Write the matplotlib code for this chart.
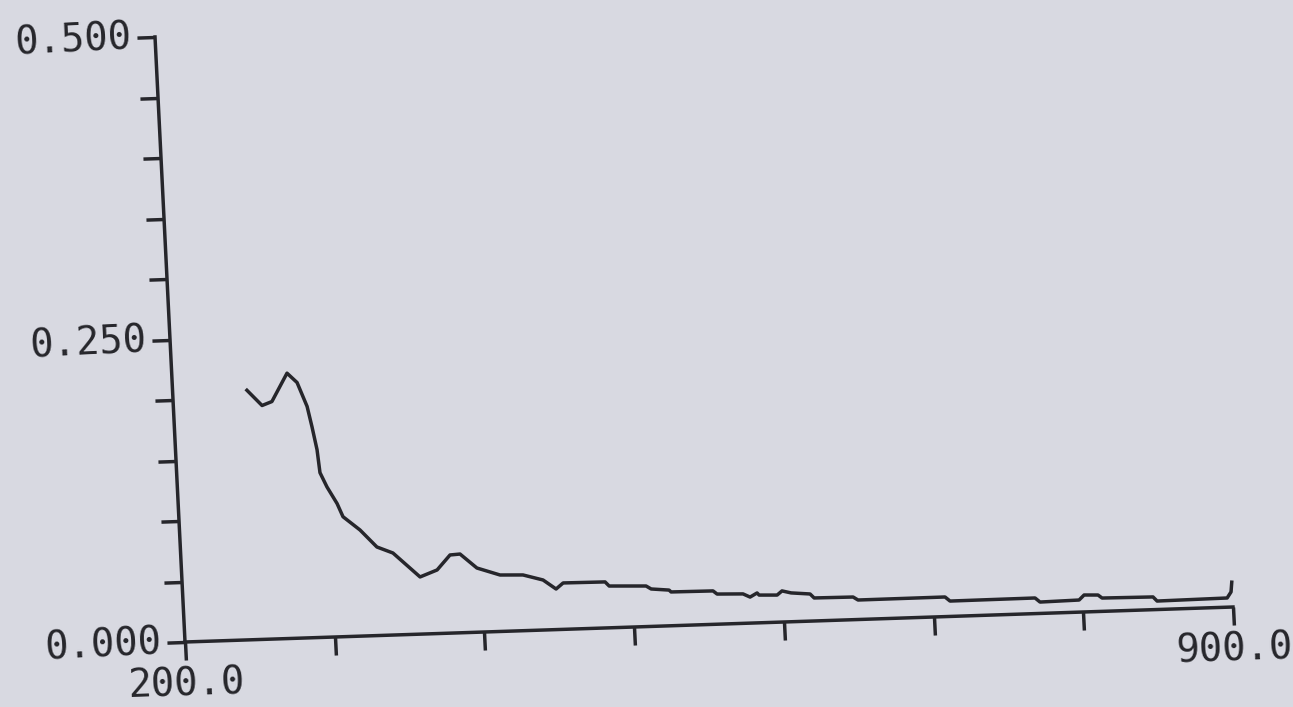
import matplotlib.pyplot as plt
import numpy as np
from matplotlib.transforms import Affine2D
from mpl_toolkits.axisartist import floating_axes
from mpl_toolkits.axisartist.grid_finder import FixedLocator, DictFormatter

# absorbance spectrum
wavelength = [249.6, 259.2, 265.9, 276.9, 283.3, 289.2, 291.8, 294.4, 295.6, 299.8,
              306.0, 309.5, 320.4, 331.1, 341.6, 358.9, 370.5, 379.6, 386.3, 397.1,
              412.3, 427.6, 440.8, 449.2, 454.1, 482.1, 484.7, 509.3, 512.6, 524.5,
              525.8, 553.8, 556.4, 573.7, 578.3, 583.1, 584.4, 596.4, 599.8, 605.8,
              618.4, 621.0, 647.0, 650.2, 708.3, 711.5, 768.3, 771.5, 797.6, 801.1,
              810.4, 813.0, 847.0, 849.6, 896.4, 899.2, 900.0]
absorbance = [0.206, 0.193, 0.196, 0.219, 0.211, 0.191, 0.174, 0.155, 0.136, 0.124,
              0.110, 0.099, 0.0876, 0.0731, 0.0677, 0.0472, 0.0525, 0.0645, 0.065, 0.053,
              0.0466, 0.046, 0.0413, 0.0335, 0.0383, 0.038, 0.0345, 0.0335, 0.0309, 0.0295,
              0.0279, 0.0276, 0.0249, 0.0243, 0.0215, 0.0247, 0.0229, 0.0224, 0.0257, 0.0238,
              0.0224, 0.019, 0.0187, 0.0161, 0.0162, 0.0127, 0.0129, 0.0094, 0.010, 0.014,
              0.0136, 0.011, 0.0105, 0.007, 0.0076, 0.0125, 0.0205]

x_ticks = [200, 300, 400, 500, 600, 700, 800, 900]
x_labels = {200: '200.0', 900: '900.0'}
y_ticks = [0.0, 0.05, 0.1, 0.15, 0.2, 0.25, 0.3, 0.35, 0.4, 0.45, 0.5]
y_labels = {0.0: '0.000', 0.25: '0.250', 0.5: '0.500'}

paper = '#d8d9e1'
ink = '#26262b'

# the scan is slightly skewed: data -> pixel-like units
skew = Affine2D(np.array([[1.4971, -60.0, -1.4971 * 200],
                          [0.05, 1210.0, -0.05 * 200],
                          [0.0, 0.0, 1.0]]))

grid_helper = floating_axes.GridHelperCurveLinear(
    skew, extremes=(200, 900, 0, 0.5),
    grid_locator1=FixedLocator(x_ticks),
    grid_locator2=FixedLocator(y_ticks),
    tick_formatter1=DictFormatter(x_labels),
    tick_formatter2=DictFormatter(y_labels))

fig = plt.figure(figsize=(12.93, 7.07), dpi=100, facecolor=paper)
# floating axes pad their limits by 2%, so the box is made 2% larger
ax = fig.add_axes([144.2 / 1293, 58.6 / 707, 1099.6 / 1293, 652.8 / 707],
                  axes_class=floating_axes.FloatingAxes, grid_helper=grid_helper)
ax.patch.set_visible(False)

for side in ['top', 'right']:
    ax.axis[side].set_visible(False)

for side in ['left', 'bottom']:
    axis = ax.axis[side]
    axis.line.set_linewidth(2.5)
    axis.line.set_color(ink)
    axis.major_ticks.set_tick_out(True)
    axis.major_ticks.set_ticksize(13)
    axis.major_ticks.set_linewidth(2.5)
    axis.major_ticks.set_markeredgewidth(2.5)
    axis.major_ticks.set_color(ink)
    axis.major_ticklabels.set_fontsize(28)
    axis.major_ticklabels.set_fontfamily('DejaVu Sans Mono')
    axis.major_ticklabels.set_color(ink)
    axis.major_ticklabels.set_pad(4)

aux = ax.get_aux_axes(skew)
aux.plot(wavelength, absorbance, color=ink, linewidth=2.5)

fig.savefig('out.png', dpi=100, facecolor=paper)
